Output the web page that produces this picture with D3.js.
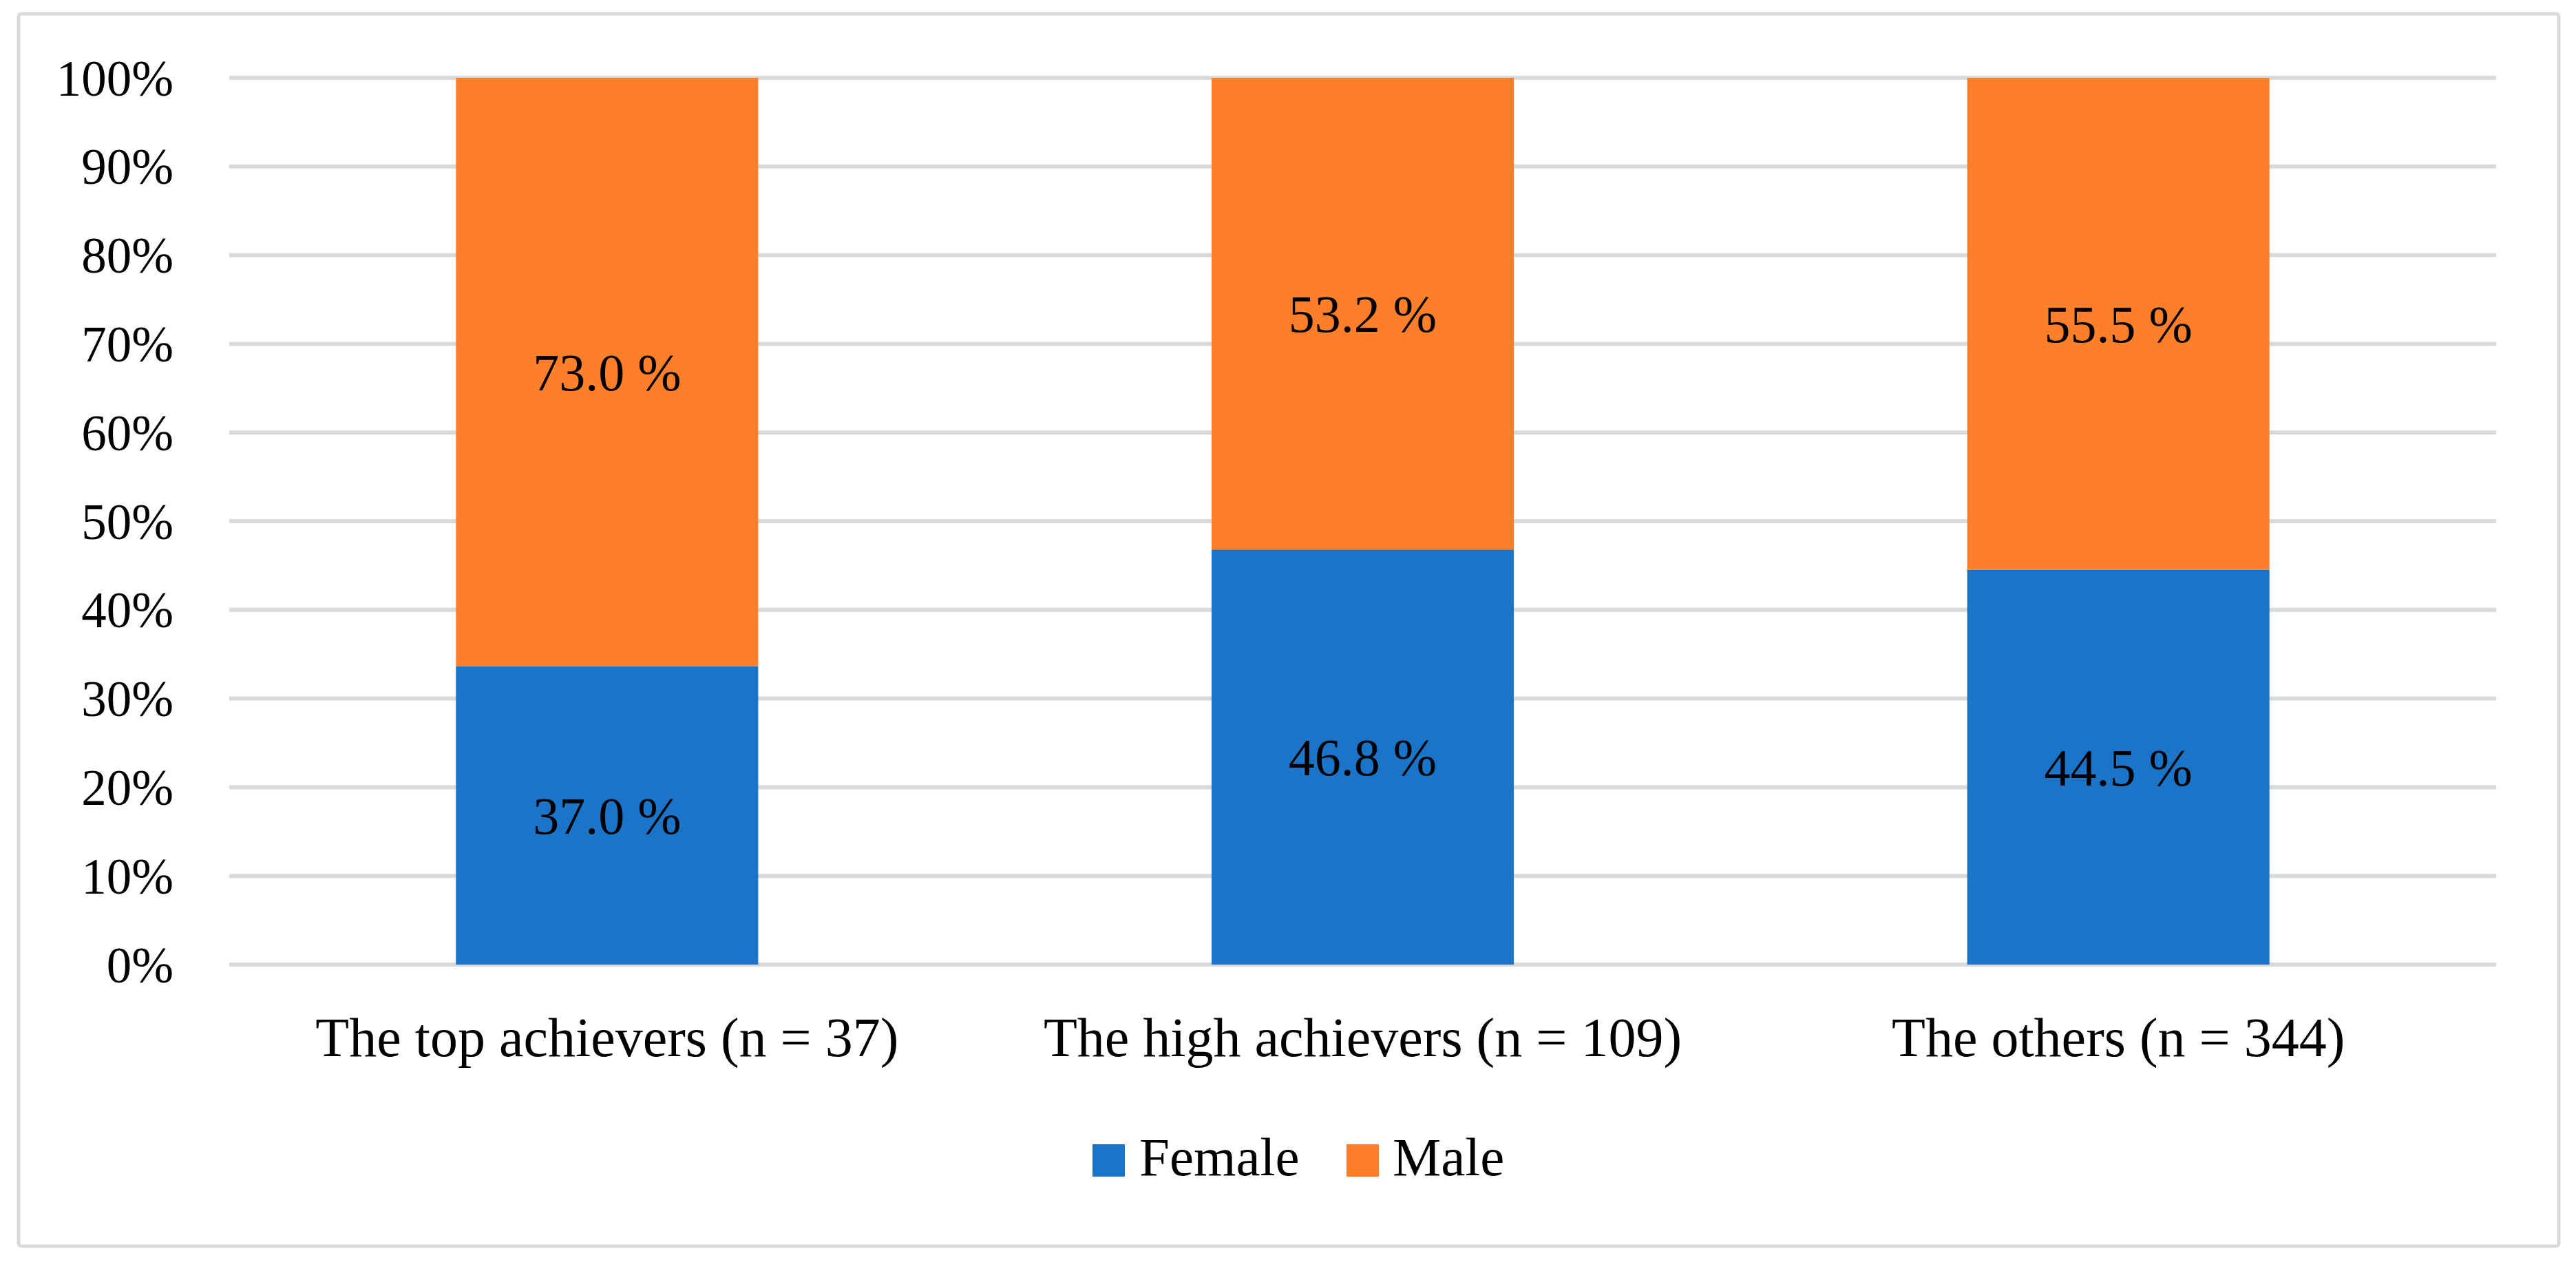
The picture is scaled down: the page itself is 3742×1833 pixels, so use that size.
<!DOCTYPE html>
<html>
<head>
<meta charset="utf-8">
<script src="https://cdn.jsdelivr.net/npm/d3@7"></script>
<style>
  html, body { margin: 0; padding: 0; background: #fff; }
  svg { display: block; }
</style>
</head>
<body>
<div id="chart"></div>
<script>
(function () {
  // data
  const categories = ["The top achievers (n = 37)", "The high achievers (n = 109)", "The others (n = 344)"];
  const seriesNames = ["Female", "Male"];
  const female = [37.0, 46.8, 44.5];
  const male = [73.0, 53.2, 55.5];
  const yTicks = [0, 0.1, 0.2, 0.3, 0.4, 0.5, 0.6, 0.7, 0.8, 0.9, 1.0];

  const colors = { Female: "#1a75c9", Male: "#fe7f29" };
  const font = "'Liberation Serif', 'DejaVu Serif', serif";
  const fontSize = 76;

  const width = 3742, height = 1833;
  const plot = { left: 333, right: 3626, top: 113, bottom: 1401 };

  const rows = categories.map((c, i) => ({ cat: c, Female: female[i], Male: male[i] }));

  // 100% stacked: each column normalised to its own total
  const stacked = d3.stack().keys(seriesNames).offset(d3.stackOffsetExpand)(rows);

  const svg = d3.select("#chart")
    .append("svg")
    .attr("width", width)
    .attr("height", height);

  // outer frame
  svg.append("rect")
    .attr("x", 27).attr("y", 20)
    .attr("width", 3717 - 27).attr("height", 1810 - 20)
    .attr("rx", 4)
    .attr("fill", "#fff")
    .attr("stroke", "#d9d9d9")
    .attr("stroke-width", 5);

  const x = d3.scaleBand()
    .domain(categories)
    .range([plot.left, plot.right])
    .paddingInner(0.6)
    .paddingOuter(0.3);

  const y = d3.scaleLinear()
    .domain([0, 1])
    .range([plot.bottom, plot.top]);

  // gridlines
  svg.append("g")
    .selectAll("line")
    .data(yTicks)
    .enter()
    .append("line")
    .attr("x1", plot.left)
    .attr("x2", plot.right)
    .attr("y1", d => y(d))
    .attr("y2", d => y(d))
    .attr("stroke", "#d9d9d9")
    .attr("stroke-width", 6);

  // y tick labels
  svg.append("g")
    .selectAll("text")
    .data(yTicks)
    .enter()
    .append("text")
    .attr("x", 252)
    .attr("y", d => y(d))
    .attr("dy", "0.35em")
    .attr("text-anchor", "end")
    .attr("font-family", font)
    .attr("font-size", 73)
    .attr("fill", "#000")
    .text(d => d3.format(".0%")(d));

  // stacked bars
  const layer = svg.selectAll("g.layer")
    .data(stacked)
    .enter()
    .append("g")
    .attr("class", "layer")
    .attr("fill", d => colors[d.key]);

  layer.selectAll("rect")
    .data(d => d)
    .enter()
    .append("rect")
    .attr("x", d => x(d.data.cat))
    .attr("y", d => y(d[1]))
    .attr("width", x.bandwidth())
    .attr("height", d => y(d[0]) - y(d[1]));

  // value labels (raw values, centred in each segment)
  stacked.forEach(s => {
    svg.append("g")
      .selectAll("text")
      .data(s)
      .enter()
      .append("text")
      .attr("x", d => x(d.data.cat) + x.bandwidth() / 2)
      .attr("y", d => y((d[0] + d[1]) / 2))
      .attr("dy", "0.35em")
      .attr("text-anchor", "middle")
      .attr("font-family", font)
      .attr("font-size", fontSize)
      .attr("fill", "#000")
      .text(d => d.data[s.key].toFixed(1) + " %");
  });

  // category labels
  svg.append("g")
    .selectAll("text")
    .data(categories)
    .enter()
    .append("text")
    .attr("x", d => x(d) + x.bandwidth() / 2)
    .attr("y", 1534)
    .attr("text-anchor", "middle")
    .attr("font-family", font)
    .attr("font-size", 80)
    .attr("fill", "#000")
    .text(d => d);

  // legend
  const legendItems = [
    { name: "Female", sx: 1587, tx: 1655 },
    { name: "Male", sx: 1956, tx: 2023 }
  ];
  const lg = svg.append("g");
  lg.selectAll("rect")
    .data(legendItems)
    .enter()
    .append("rect")
    .attr("x", d => d.sx)
    .attr("y", 1662)
    .attr("width", 47)
    .attr("height", 47)
    .attr("fill", d => colors[d.name]);
  lg.selectAll("text")
    .data(legendItems)
    .enter()
    .append("text")
    .attr("x", d => d.tx)
    .attr("y", 1707)
    .attr("font-family", font)
    .attr("font-size", 79)
    .attr("fill", "#000")
    .text(d => d.name);
})();
</script>
</body>
</html>
